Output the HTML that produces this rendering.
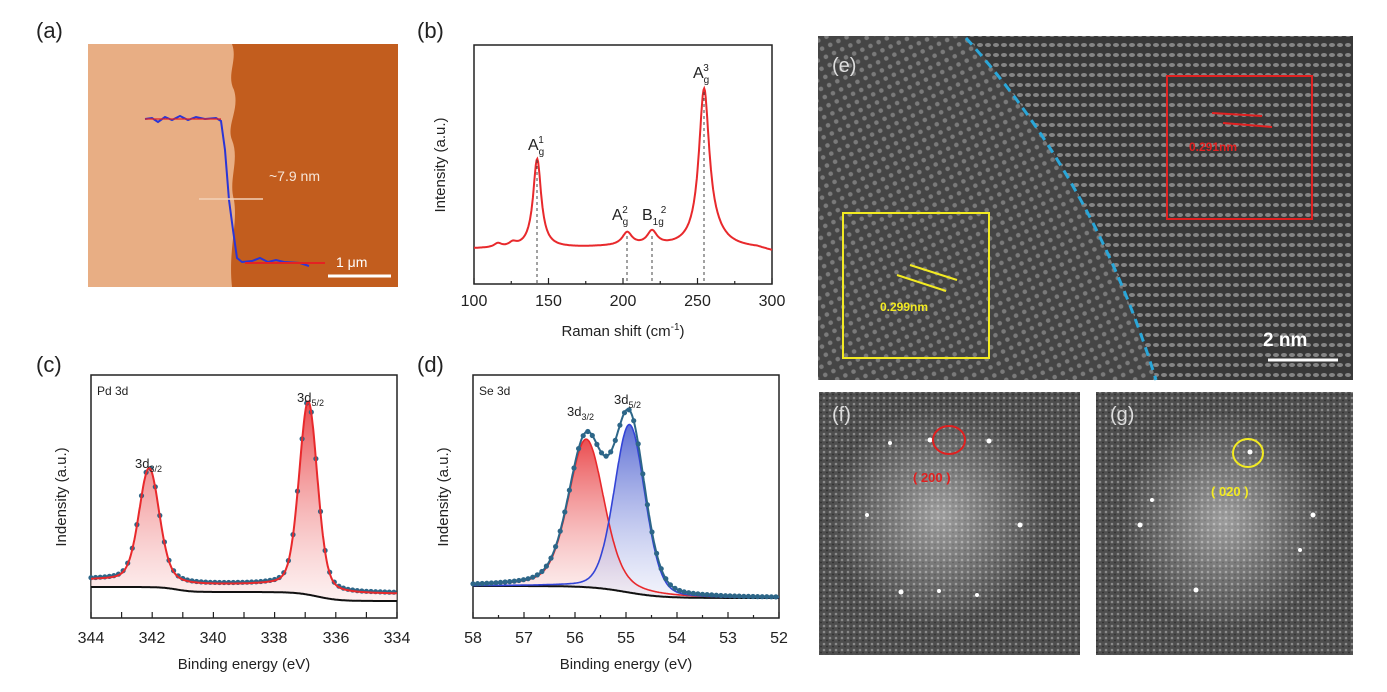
<!DOCTYPE html>
<html><head><meta charset="utf-8">
<style>
body{margin:0;background:#fff;}
svg{display:block;font-family:"Liberation Sans",sans-serif;}
</style></head>
<body>
<svg id="s" width="1387" height="692" viewBox="0 0 1387 692" xmlns="http://www.w3.org/2000/svg">
<defs>
<linearGradient id="rg" x1="0" y1="0" x2="0" y2="1"><stop offset="0" stop-color="#e8393c" stop-opacity="0.9"/><stop offset="1" stop-color="#fbe3e3" stop-opacity="0.5"/></linearGradient>
<linearGradient id="bg" x1="0" y1="0" x2="0" y2="1"><stop offset="0" stop-color="#4c5fd0" stop-opacity="0.9"/><stop offset="1" stop-color="#e6e9f8" stop-opacity="0.5"/></linearGradient>
<pattern id="lat1" width="9" height="9" patternUnits="userSpaceOnUse" patternTransform="rotate(-25)">
<rect width="9" height="9" fill="#454545"/><circle cx="4.5" cy="4.5" r="2.3" fill="#7a7a7a"/></pattern>
<pattern id="lat2" width="8" height="10" patternUnits="userSpaceOnUse">
<rect width="8" height="10" fill="#383838"/><ellipse cx="4" cy="5" rx="3" ry="2" fill="#858585"/></pattern>
<pattern id="fft" width="6" height="6" patternUnits="userSpaceOnUse">
<rect width="6" height="6" fill="#4e4e4e"/><circle cx="2" cy="2" r="1.3" fill="#8a8a8a"/><circle cx="5" cy="4.5" r="0.9" fill="#2e2e2e"/></pattern>
<radialGradient id="glow"><stop offset="0" stop-color="#fff" stop-opacity="0.45"/><stop offset="1" stop-color="#fff" stop-opacity="0"/></radialGradient>
<clipPath id="ce"><rect x="818" y="36" width="535" height="344"/></clipPath>
</defs>

<g font-size="22" fill="#222">
<text x="36" y="38">(a)</text><text x="417" y="38">(b)</text>
<text x="36" y="372">(c)</text><text x="417" y="372">(d)</text>
</g>

<!-- (a) AFM -->
<rect x="88" y="44" width="310" height="243" fill="#e8ae84"/>
<path d="M232,44 C238,60 226,75 234,90 C240,110 226,125 232,140 C240,160 228,180 234,200 C238,225 228,250 232,287 L398,287 L398,44Z" fill="#c25d1e"/>
<path d="M145,119 L152,118 L158,122 L165,117 L172,120 L180,116 L188,120 L196,117 L205,119 L216,118 L221,121 L225,150 L229,200 L233,230 L237,258 L242,262 L252,261 L260,258 L268,262 L276,260 L284,262 L300,263 L309,266" fill="none" stroke="#2a35d6" stroke-width="2"/>
<line x1="145" y1="119" x2="221" y2="119" stroke="#e42222" stroke-width="1.2"/>
<line x1="245" y1="263" x2="325" y2="263" stroke="#e42222" stroke-width="2"/>
<line x1="199" y1="199" x2="263" y2="199" stroke="#f2d2b8" stroke-width="1.5"/>
<text x="269" y="181" font-size="14" fill="#f7e6d8">~7.9 nm</text>
<text x="336" y="267" font-size="14" fill="#fff">1 μm</text>
<line x1="328" y1="276" x2="391" y2="276" stroke="#fff" stroke-width="3"/>

<!-- (b) Raman -->
<rect x="474" y="45" width="298" height="239" fill="none" stroke="#222" stroke-width="1.5"/>
<path id="raman" fill="none" stroke="#e8292c" stroke-width="2"/>
<g id="bticks" stroke="#222" stroke-width="1.2"></g>
<g font-size="16" fill="#222" text-anchor="middle">
<text x="474" y="306">100</text><text x="548.5" y="306">150</text><text x="623" y="306">200</text><text x="697.5" y="306">250</text><text x="772" y="306">300</text>
<text x="623" y="336" font-size="15">Raman shift (cm<tspan dy="-6" font-size="10">-1</tspan><tspan dy="6">)</tspan></text>
<text transform="translate(445,165) rotate(-90)" font-size="15">Intensity (a.u.)</text>
</g>
<g font-size="16" fill="#222">
<text x="528" y="150">A<tspan font-size="10" dy="5">g</tspan><tspan font-size="10" dx="-6" dy="-12">1</tspan></text>
<text x="612" y="220">A<tspan font-size="10" dy="5">g</tspan><tspan font-size="10" dx="-6" dy="-12">2</tspan></text>
<text x="642" y="220">B<tspan font-size="10" dy="5">1g</tspan><tspan font-size="10" dx="-3" dy="-12">2</tspan></text>
<text x="693" y="78">A<tspan font-size="10" dy="5">g</tspan><tspan font-size="10" dx="-6" dy="-12">3</tspan></text>
</g>
<g stroke="#444" stroke-dasharray="3,3" stroke-width="1">
<line x1="537" y1="160" x2="537" y2="284"/><line x1="627" y1="236" x2="627" y2="284"/>
<line x1="652" y1="236" x2="652" y2="284"/><line x1="704" y1="92" x2="704" y2="284"/>
</g>

<!-- (c) Pd 3d -->
<rect x="91" y="375" width="306" height="243" fill="none" stroke="#222" stroke-width="1.5"/>
<path id="cfill" fill="url(#rg)"/>
<path id="cblack" fill="none" stroke="#111" stroke-width="2"/>
<g id="cdots" fill="#2d6688"></g>
<path id="cfit" fill="none" stroke="#e8292c" stroke-width="2"/>
<g id="cticks" stroke="#222" stroke-width="1.2"></g>
<g font-size="16" fill="#222" text-anchor="middle">
<text x="91" y="643">344</text><text x="152" y="643">342</text><text x="213" y="643">340</text><text x="274" y="643">338</text><text x="336" y="643">336</text><text x="397" y="643">334</text>
<text x="244" y="669" font-size="15">Binding energy (eV)</text>
<text transform="translate(66,497) rotate(-90)" font-size="15">Indensity (a.u.)</text>
</g>
<text x="97" y="395" font-size="12" fill="#222">Pd 3d</text>
<text x="135" y="468" font-size="13" fill="#222">3d<tspan font-size="9" dy="4">3/2</tspan></text>
<text x="297" y="402" font-size="13" fill="#222">3d<tspan font-size="9" dy="4">5/2</tspan></text>

<!-- (d) Se 3d -->
<rect x="473" y="375" width="306" height="243" fill="none" stroke="#222" stroke-width="1.5"/>
<path id="dfr" fill="url(#rg)"/>
<path id="dfb" fill="url(#bg)"/>
<path id="dblack" fill="none" stroke="#111" stroke-width="2"/>
<path id="dred" fill="none" stroke="#e8292c" stroke-width="1.6"/>
<path id="dblue" fill="none" stroke="#3344d6" stroke-width="1.6"/>
<g id="ddots" fill="#2d6688"></g>
<path id="dsum" fill="none" stroke="#2d6688" stroke-width="2"/>
<g id="dticks" stroke="#222" stroke-width="1.2"></g>
<g font-size="16" fill="#222" text-anchor="middle">
<text x="473" y="643">58</text><text x="524" y="643">57</text><text x="575" y="643">56</text><text x="626" y="643">55</text><text x="677" y="643">54</text><text x="728" y="643">53</text><text x="779" y="643">52</text>
<text x="626" y="669" font-size="15">Binding energy (eV)</text>
<text transform="translate(448,497) rotate(-90)" font-size="15">Indensity (a.u.)</text>
</g>
<text x="479" y="395" font-size="12" fill="#222">Se 3d</text>
<text x="567" y="416" font-size="13" fill="#222">3d<tspan font-size="9" dy="4">3/2</tspan></text>
<text x="614" y="404" font-size="13" fill="#222">3d<tspan font-size="9" dy="4">5/2</tspan></text>

<!-- (e) HRTEM -->
<g clip-path="url(#ce)">
<rect x="818" y="36" width="535" height="344" fill="url(#lat1)"/>
<path d="M966,36 C1040,120 1110,230 1156,380 L1353,380 L1353,36Z" fill="url(#lat2)"/>
</g>
<path d="M966,38 C1040,120 1110,230 1156,380" fill="none" stroke="#2aa6d8" stroke-width="3" stroke-dasharray="9,6"/>
<text x="832" y="72" font-size="20" fill="#ddd">(e)</text>
<rect x="1167" y="76" width="145" height="143" fill="none" stroke="#e02020" stroke-width="2"/>
<line x1="1212" y1="113" x2="1262" y2="116" stroke="#e02020" stroke-width="2"/>
<line x1="1223" y1="123" x2="1272" y2="127" stroke="#e02020" stroke-width="2"/>
<text x="1189" y="151" font-size="12" font-weight="bold" fill="#e02020">0.291nm</text>
<rect x="843" y="213" width="146" height="145" fill="none" stroke="#f2ea22" stroke-width="2"/>
<line x1="897" y1="275" x2="946" y2="291" stroke="#f2ea22" stroke-width="2"/>
<line x1="910" y1="265" x2="957" y2="280" stroke="#f2ea22" stroke-width="2"/>
<text x="880" y="311" font-size="12" font-weight="bold" fill="#f2ea22">0.299nm</text>
<text x="1263" y="346" font-size="19" font-weight="bold" fill="#fff">2 nm</text>
<line x1="1268" y1="360" x2="1338" y2="360" stroke="#fff" stroke-width="3"/>

<!-- (f) FFT -->
<rect x="819" y="392" width="261" height="263" fill="url(#fft)"/>
<ellipse cx="940" cy="515" rx="110" ry="110" fill="url(#glow)"/>
<g fill="#fff"><circle cx="930" cy="440" r="2.5"/><circle cx="989" cy="441" r="2.5"/><circle cx="890" cy="443" r="2"/><circle cx="867" cy="515" r="2"/><circle cx="1020" cy="525" r="2.5"/><circle cx="901" cy="592" r="2.5"/><circle cx="939" cy="591" r="2"/><circle cx="977" cy="595" r="2"/></g>
<text x="832" y="421" font-size="20" fill="#ddd">(f)</text>
<ellipse cx="949" cy="440" rx="16" ry="14" fill="none" stroke="#e02020" stroke-width="2"/>
<text x="913" y="482" font-size="13" font-weight="bold" fill="#e02020">( 200 )</text>

<!-- (g) FFT -->
<rect x="1096" y="392" width="257" height="263" fill="url(#fft)"/>
<ellipse cx="1225" cy="520" rx="105" ry="110" fill="url(#glow)"/>
<g fill="#fff"><circle cx="1250" cy="452" r="2.5"/><circle cx="1140" cy="525" r="2.5"/><circle cx="1313" cy="515" r="2.5"/><circle cx="1196" cy="590" r="2.5"/><circle cx="1300" cy="550" r="2"/><circle cx="1152" cy="500" r="2"/></g>
<text x="1110" y="421" font-size="20" fill="#ddd">(g)</text>
<ellipse cx="1248" cy="453" rx="15" ry="14" fill="none" stroke="#f2ea22" stroke-width="2"/>
<text x="1211" y="496" font-size="13" font-weight="bold" fill="#f2ea22">( 020 )</text>
</svg>
<script>
function P(pts){return pts.map((p,i)=>(i?'L':'M')+p[0].toFixed(1)+','+p[1].toFixed(1)).join('');}
function L(x,c,w){return 1/(1+((x-c)/w)*((x-c)/w));}
function G(x,c,s){return Math.exp(-0.5*((x-c)/s)*((x-c)/s));}
function sg(e,c,w){return 1/(1+Math.exp((e-c)/w));}
function ticks(id,x0,x1,n,y,minor){var g=document.getElementById(id),h='';for(var i=0;i<=n;i++){var x=x0+(x1-x0)*i/n;h+='<line x1="'+x+'" y1="'+y+'" x2="'+x+'" y2="'+(y-6)+'"/>';if(minor&&i<n){var xm=x+(x1-x0)/n/2;h+='<line x1="'+xm+'" y1="'+y+'" x2="'+xm+'" y2="'+(y-3)+'"/>';}}g.innerHTML=h;}
// Raman
var r=[];for(var v=100;v<=300;v+=0.5){var y=249-4*L(v,116,3)-4*L(v,126,3)-89*L(v,142.4,3.3)-13*L(v,202.8,4)-14*L(v,219.5,4)-152*L(v,254.4,4.2)-10*L(v,260,10)-2*L(v,200,40)+(v>290?3:0)*(v-290)/10;r.push([474+(v-100)*1.49,y]);}
document.getElementById('raman').setAttribute('d',P(r));
ticks('bticks',474,772,4,284,true);
// Pd
function cx(e){return 91+(344-e)*30.6;}
function cb(e){return 587+5*sg(e,341.2,0.25)+9*sg(e,336.6,0.35);}
function cf(e){return cb(e)-7-112*(0.75*G(e,342.1,0.33)+0.25*L(e,342.1,0.4))-186*(0.75*G(e,336.9,0.3)+0.25*L(e,336.9,0.35));}
var cp=[],cb2=[];for(var e=344;e>=334;e-=0.02){cp.push([cx(e),cf(e)]);cb2.push([cx(e),cb(e)]);}
document.getElementById('cfit').setAttribute('d',P(cp));
document.getElementById('cblack').setAttribute('d',P(cb2));
document.getElementById('cfill').setAttribute('d',P(cp)+P(cb2.slice().reverse()).replace('M','L')+'Z');
var h='';for(var e=344;e>=334;e-=0.15){h+='<circle cx="'+cx(e).toFixed(1)+'" cy="'+(cf(e)-1).toFixed(1)+'" r="2.6"/>';}
document.getElementById('cdots').innerHTML=h;
ticks('cticks',91,397,10,618,false);
// Se
function dx(e){return 473+(58-e)*51;}
function db(e){return 586+12*sg(e,55,0.35);}
function dr(e){return 148*(0.7*G(e,55.78,0.34)+0.3*L(e,55.78,0.45));}
function dbl(e){return 168*(0.8*G(e,54.93,0.3)+0.2*L(e,54.93,0.35));}
var R=[],B=[],S=[],BK=[];for(var e=58;e>=52;e-=0.01){var b=db(e);BK.push([dx(e),b]);R.push([dx(e),b-dr(e)]);B.push([dx(e),b-dbl(e)]);S.push([dx(e),b-dr(e)-dbl(e)]);}
document.getElementById('dblack').setAttribute('d',P(BK));
document.getElementById('dred').setAttribute('d',P(R));
document.getElementById('dblue').setAttribute('d',P(B));
document.getElementById('dsum').setAttribute('d',P(S));
var rb=P(BK.slice().reverse()).replace('M','L')+'Z';
document.getElementById('dfr').setAttribute('d',P(R)+rb);
document.getElementById('dfb').setAttribute('d',P(B)+rb);
h='';for(var e=58;e>=52;e-=0.09){var b=db(e);h+='<circle cx="'+dx(e).toFixed(1)+'" cy="'+(b-dr(e)-dbl(e)).toFixed(1)+'" r="2.6"/>';}
document.getElementById('ddots').innerHTML=h;
ticks('dticks',473,779,6,618,true);
</script>
</body></html>
